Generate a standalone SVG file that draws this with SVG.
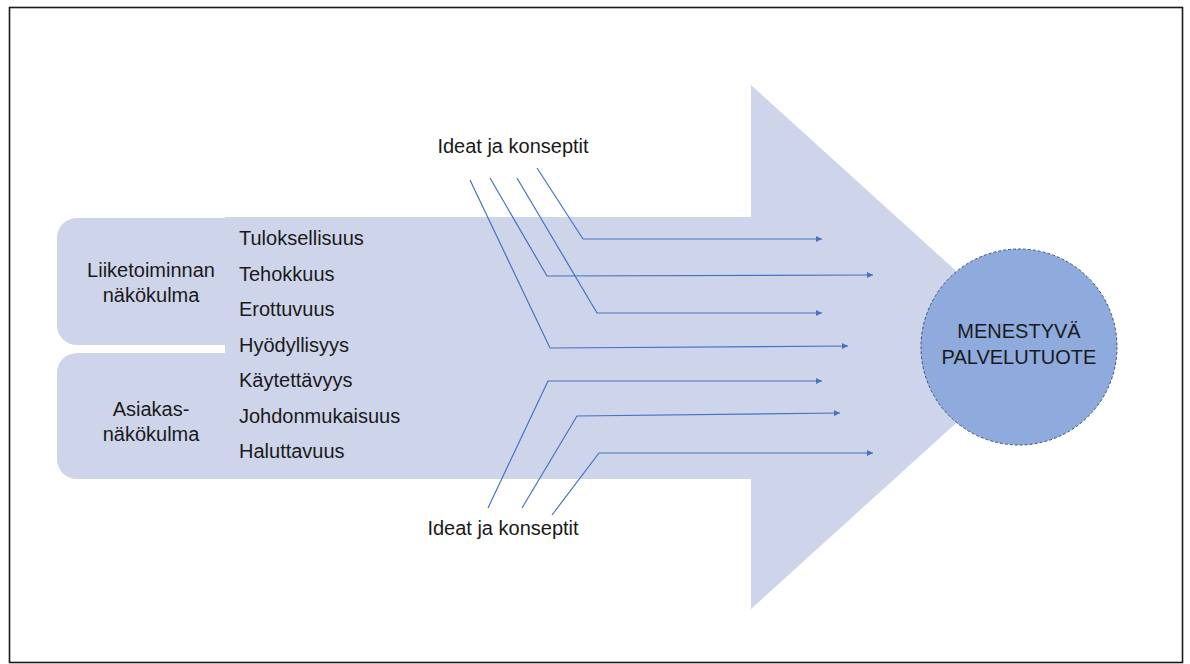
<svg xmlns="http://www.w3.org/2000/svg" width="1190" height="664" viewBox="0 0 1190 664">
  <style>
    .shape { fill: #CED5EA; }
    .txt { font-family: "Liberation Sans", Arial, sans-serif; font-size: 20px; fill: #1a1a1a; }
    .ctr { text-anchor: middle; }
    .conn { fill: none; stroke: #4472C4; stroke-width: 1.2; marker-end: url(#ah); }
  </style>
  <defs>
    <marker id="ah" viewBox="0 0 10 10" refX="10" refY="5" markerWidth="7" markerHeight="6" markerUnits="userSpaceOnUse" orient="auto">
      <path d="M0,0 L10,5 L0,10 Z" fill="#4472C4"/>
    </marker>
  </defs>
  <rect x="0" y="0" width="1190" height="664" fill="#ffffff"/>
  <rect id="frame" x="9.5" y="7.5" width="1173" height="655" fill="none" stroke="#1a1a1a" stroke-width="1.6"/>

  <g id="big-arrow">
    <path class="shape" d="M225,217 L751,217 L751,85 L1040,347 L751,609 L751,479 L225,479 Z"/>
  </g>
  <g id="liiketoiminta">
    <rect class="shape" x="57" y="218" width="190" height="127" rx="20" ry="20"/>
    <text class="txt ctr" x="151" y="277">Liiketoiminnan</text>
    <text class="txt ctr" x="151" y="302">näkökulma</text>
  </g>
  <g id="asiakas">
    <rect class="shape" x="57" y="353" width="190" height="126" rx="20" ry="20"/>
    <text class="txt ctr" x="151" y="416">Asiakas-</text>
    <text class="txt ctr" x="151" y="441">näkökulma</text>
  </g>
  <g id="criteria">
    <text class="txt" x="239" y="245">Tuloksellisuus</text>
    <text class="txt" x="239" y="280.5">Tehokkuus</text>
    <text class="txt" x="239" y="316">Erottuvuus</text>
    <text class="txt" x="239" y="351.5">Hyödyllisyys</text>
    <text class="txt" x="239" y="387">Käytettävyys</text>
    <text class="txt" x="239" y="422.5">Johdonmukaisuus</text>
    <text class="txt" x="239" y="458">Haluttavuus</text>
  </g>
  <g id="ideas-top">
    <text class="txt ctr" x="513" y="153">Ideat ja konseptit</text>
  </g>
  <g id="ideas-bottom">
    <text class="txt ctr" x="503" y="535">Ideat ja konseptit</text>
  </g>
  <g id="result">
    <circle cx="1019" cy="347" r="98" fill="#8FAADC" stroke="#3A4F7A" stroke-width="1" stroke-dasharray="3,2"/>
    <text class="txt ctr" x="1019" y="338" fill="#1c2333">MENESTYVÄ</text>
    <text class="txt ctr" x="1019" y="364" fill="#1c2333">PALVELUTUOTE</text>
  </g>
  <g id="connectors">
    <path class="conn" d="M537,168 L583,239 L822,239"/>
    <path class="conn" d="M490,178 L547,276 L873,275"/>
    <path class="conn" d="M517,178 L597,313 L822,313"/>
    <path class="conn" d="M470,180 L550,348 L848,346"/>
    <path class="conn" d="M488,508 L548,381 L822,381"/>
    <path class="conn" d="M522,508 L577,416 L840,413"/>
    <path class="conn" d="M552,515 L599,453 L873,453"/>
  </g>
</svg>
